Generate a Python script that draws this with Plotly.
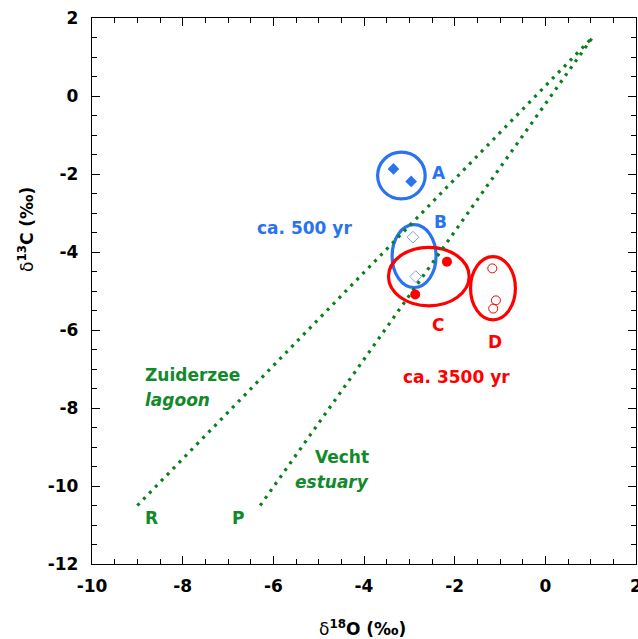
import plotly.graph_objects as go

# ---- data ----
group_A_x = [-3.35, -2.96]
group_A_y = [-1.87, -2.19]
group_B_x = [-2.92, -2.86]
group_B_y = [-3.62, -4.63]
group_C_x = [-2.17, -2.87]
group_C_y = [-4.25, -5.09]
group_D_x = [-1.17, -1.09, -1.15]
group_D_y = [-4.42, -5.24, -5.45]

zuiderzee_x = [-9.0, 1.04]
zuiderzee_y = [-10.5, 1.5]
vecht_x = [-6.29, 1.04]
vecht_y = [-10.5, 1.5]

# ellipse extents: (x0, x1, y0, y1)
ellipse_A = (-3.70, -2.65, -1.44, -2.64)
ellipse_B = (-3.38, -2.41, -3.30, -4.91)
ellipse_C = (-3.46, -1.68, -3.88, -5.38)
ellipse_D = (-1.65, -0.66, -4.12, -5.74)

x_tick_vals = [-10, -8, -6, -4, -2, 0, 2]
x_tick_text = ["-10", "-8", "-6", "-4", "-2", "0", "2"]
y_tick_vals = [-12, -10, -8, -6, -4, -2, 0, 2]
y_tick_text = ["-12", "-10", "-8", "-6", "-4", "-2", "0", "2"]

BLUE = "#2a73f0"
LIGHTBLUE = "#7aa2f0"
RED = "#ff0000"
GREEN_LINE = "#0a7f1e"
GREEN_TEXT = "#12892a"
FONT = "DejaVu Sans"
FS = 17

fig = go.Figure()

dash = "3px,5.5px"
fig.add_trace(go.Scatter(x=zuiderzee_x, y=zuiderzee_y, mode="lines",
                         line=dict(color=GREEN_LINE, width=3.2, dash=dash)))
fig.add_trace(go.Scatter(x=vecht_x, y=vecht_y, mode="lines",
                         line=dict(color=GREEN_LINE, width=3.2, dash=dash)))

fig.add_trace(go.Scatter(x=group_A_x, y=group_A_y, mode="markers",
                         marker=dict(symbol="diamond", size=9, color=BLUE,
                                     line=dict(width=0))))
fig.add_trace(go.Scatter(x=group_B_x, y=group_B_y, mode="markers",
                         marker=dict(symbol="diamond-open", size=9, color=LIGHTBLUE,
                                     line=dict(width=1))))
fig.add_trace(go.Scatter(x=group_C_x, y=group_C_y, mode="markers",
                         marker=dict(symbol="circle", size=10, color=RED,
                                     line=dict(width=0))))
fig.add_trace(go.Scatter(x=group_D_x, y=group_D_y, mode="markers",
                         marker=dict(symbol="circle-open", size=9, color=RED,
                                     line=dict(width=1))))

shapes = []
for (x0, x1, y0, y1), col in [(ellipse_A, BLUE), (ellipse_B, BLUE),
                              (ellipse_C, RED), (ellipse_D, RED)]:
    shapes.append(dict(type="circle", xref="x", yref="y", x0=x0, x1=x1,
                       y0=y0, y1=y1, line=dict(color=col, width=3.2),
                       layer="below"))

def ann(text, x, y, color, xanchor="center", size=FS):
    return dict(text=text, x=x, y=y, xref="x", yref="y", showarrow=False,
                xanchor=xanchor, yanchor="middle",
                font=dict(family=FONT, size=size, color=color))

annotations = [
    ann("<b>A</b>", -2.34, -1.98, BLUE),
    ann("<b>B</b>", -2.32, -3.22, BLUE),
    ann("<b>ca. 500 yr</b>", -5.32, -3.38, BLUE),
    ann("<b>C</b>", -2.37, -5.87, RED),
    ann("<b>D</b>", -1.10, -6.30, RED),
    ann("<b>ca. 3500 yr</b>", -1.95, -7.20, RED),
    ann("<b>Zuiderzee</b>", -8.87, -7.15, GREEN_TEXT, xanchor="left"),
    ann("<b><i>lagoon</i></b>", -8.87, -7.79, GREEN_TEXT, xanchor="left"),
    ann("<b>Vecht</b>", -3.85, -9.25, GREEN_TEXT, xanchor="right"),
    ann("<b><i>estuary</i></b>", -3.85, -9.89, GREEN_TEXT, xanchor="right"),
    ann("<b>R</b>", -8.68, -10.83, GREEN_TEXT),
    ann("<b>P</b>", -6.77, -10.83, GREEN_TEXT),
    dict(text="δ<b><sup>18</sup>O (‰)</b>", xref="paper", yref="paper",
         x=0.497, y=-0.118, showarrow=False, xanchor="center", yanchor="middle",
         font=dict(family=FONT, size=FS, color="black")),
    dict(text="δ<b><sup>13</sup>C (‰)</b>", xref="paper", yref="paper",
         x=-0.121, y=0.612, showarrow=False, xanchor="center", yanchor="middle",
         textangle=-90, font=dict(family=FONT, size=FS, color="black")),
]

axis_common = dict(showline=True, linecolor="black", linewidth=1.3, mirror="allticks",
                   ticks="inside", ticklen=8, tickwidth=1.2, tickcolor="black",
                   showgrid=False, zeroline=False, ticklabeloverflow="allow",
                   automargin=False,
                   tickfont=dict(family=FONT, size=FS, color="black", weight="bold"),
                   minor=dict(dtick=0.5, ticks="inside", ticklen=4.5, tickwidth=1,
                              tickcolor="black", showgrid=False))

fig.update_xaxes(range=[-10, 2], tickmode="array", tickvals=x_tick_vals,
                 ticktext=x_tick_text, ticklabelstandoff=6, **axis_common)
fig.update_yaxes(range=[-12, 2], tickmode="array", tickvals=y_tick_vals,
                 ticktext=y_tick_text, ticklabelstandoff=9, **axis_common)

fig.update_layout(width=638, height=639, autosize=False,
                  margin=dict(l=92, r=2, t=18, b=75, pad=0),
                  plot_bgcolor="white", paper_bgcolor="white",
                  showlegend=False, shapes=shapes, annotations=annotations)

# remove the default 8px page margin so the figure fills the window exactly
fig.write_html("out.html",
               config={"displayModeBar": False},
               post_script="document.body.style.margin='0';"
                           "document.body.style.overflow='hidden';")
